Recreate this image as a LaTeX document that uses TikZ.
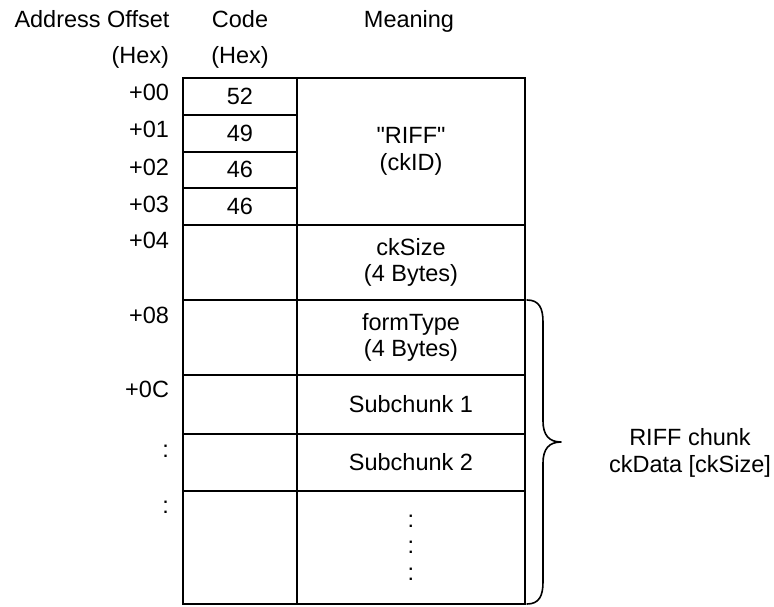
\documentclass[tikz,border=0pt]{standalone}
\usepackage{fontspec}
\setmainfont{Liberation Sans}
\newfontfamily\rawfont{Liberation Sans}
\begin{document}
\begin{tikzpicture}[x=1pt,y=-1pt,
  every node/.style={font=\fontsize{23.5}{26.5}\selectfont, inner sep=0pt, outer sep=0pt},
  cell/.style={draw, line width=2pt, rectangle, align=center},
  lbl/.style={anchor=base},
  offs/.style={anchor=base east},
  bracestyle/.style={line width=1.6pt, line cap=round, line join=round}]
\useasboundingbox (0,0) rectangle (774,606);
% headers
\node[lbl] (hAddr) at (92,27) {Address Offset};
\node[lbl] (hCode) at (240,27) {Code};
\node[lbl] (hMean) at (409,27) {Meaning};
\node[offs] (hHex1) at (169,63) {(Hex)};
\node[lbl] (hHex2) at (240,63) {(Hex)};
% code cells
\node[cell, minimum width=114pt, minimum height=36.75pt] (c0) at (240,96.375) {52};
\node[cell, minimum width=114pt, minimum height=36.75pt] (c1) at (240,133.125) {49};
\node[cell, minimum width=114pt, minimum height=36.75pt] (c2) at (240,169.875) {46};
\node[cell, minimum width=114pt, minimum height=36.75pt] (c3) at (240,206.625) {46};
\node[cell, minimum width=114pt, minimum height=75pt] (c4) at (240,262.5) {};
\node[cell, minimum width=114pt, minimum height=75pt] (c8) at (240,337.5) {};
\node[cell, minimum width=114pt, minimum height=59pt] (cC) at (240,404.5) {};
\node[cell, minimum width=114pt, minimum height=57pt] (cD) at (240,462.5) {};
\node[cell, minimum width=114pt, minimum height=113pt] (cE) at (240,547.5) {};
% meaning cells
\node[cell, minimum width=228pt, minimum height=147pt] (m0) at (411,151.5) {{\rawfont "RIFF"}\\(ckID)};
\node[cell, minimum width=228pt, minimum height=75pt] (m4) at (411,262.5) {ckSize\\(4 Bytes)};
\node[cell, minimum width=228pt, minimum height=75pt] (m8) at (411,337.5) {formType\\(4 Bytes)};
\node[cell, minimum width=228pt, minimum height=59pt] (mC) at (411,404.5) {Subchunk 1};
\node[cell, minimum width=228pt, minimum height=57pt] (mD) at (411,462.5) {Subchunk 2};
\node[cell, minimum width=228pt, minimum height=113pt] (mE) at (411,547.5) {:\\:\\:};
% offsets
\node[offs] (o0) at (169,100) {+00};
\node[offs] (o1) at (169,137.5) {+01};
\node[offs] (o2) at (169,175) {+02};
\node[offs] (o3) at (169,212.5) {+03};
\node[offs] (o4) at (169,248) {+04};
\node[offs] (o8) at (169,323) {+08};
\node[offs] (oC) at (169,397) {+0C};
\node[offs] (oD) at (169,457) {:};
\node[offs] (oE) at (169,513) {:};
% brace
\coordinate (bTop) at (527,300);
\coordinate (bTip) at (561,442);
\coordinate (bBot) at (527,604);
\draw[bracestyle] (bTop) .. controls (539,300) and (543,308) .. (543,322)
  -- (543,421) .. controls (543,435) and (549,442) .. (bTip)
  .. controls (549,442) and (543,449) .. (543,463)
  -- (543,582) .. controls (543,596) and (539,604) .. (bBot);
\node[align=center] (riff) at (690,453) {RIFF chunk\\ckData [ckSize]};
\end{tikzpicture}
\end{document}
